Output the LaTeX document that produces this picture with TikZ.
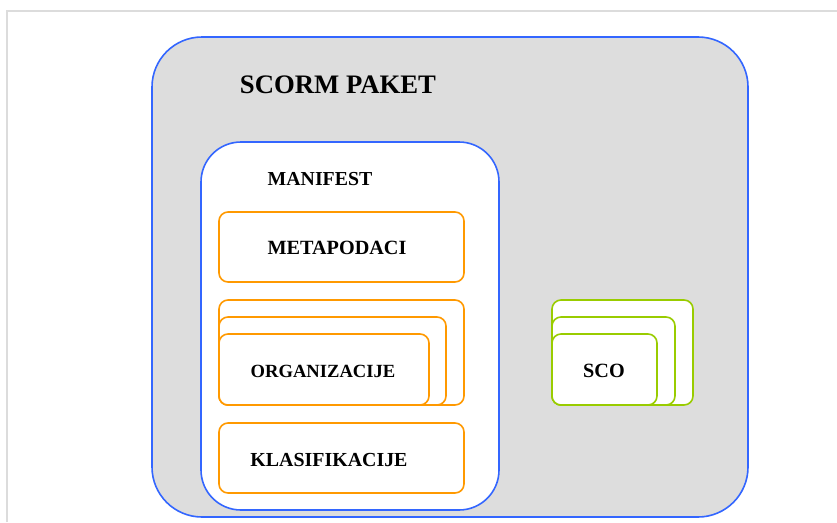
\documentclass[tikz,border=0pt]{standalone}
\usepackage{fontspec}
\setmainfont{Liberation Serif}
\definecolor{frame}{HTML}{DCDCDC}
\definecolor{pblue}{HTML}{3366FF}
\definecolor{porange}{HTML}{FF9900}
\definecolor{pgreen}{HTML}{99CC00}
\definecolor{pgray}{HTML}{DDDDDD}
\tikzset{
  outerbox/.style={draw=pblue, line width=1.6pt, fill=pgray, rounded corners=50pt},
  manbox/.style={draw=pblue, line width=1.6pt, fill=white, rounded corners=40pt},
  obox/.style={draw=porange, line width=1.6pt, fill=white, rounded corners=9pt},
  gbox/.style={draw=pgreen, line width=1.6pt, fill=white, rounded corners=9pt},
  lbl/.style={font=\bfseries, text=black, inner sep=0pt}
}
\begin{document}
\begin{tikzpicture}[x=1pt,y=-1pt]
\useasboundingbox (0,0) rectangle (837,522);
\draw[frame, line width=2pt] (7,522) coordinate (fl) -- (7,11) coordinate (ftl) -- (837,11) coordinate (ftr);
% outer package
\draw[outerbox] (152,37) rectangle (748,517);
\node[lbl, font=\bfseries\fontsize{26.7}{30}\selectfont] (title) at (338,85) {SCORM PAKET};
% manifest
\draw[manbox] (201,142) rectangle (499,510);
\node[lbl, font=\bfseries\fontsize{19.8}{23}\selectfont] (manifest) at (320,179) {MANIFEST};
% metapodaci
\draw[obox] (219,212) rectangle (464,282);
\node[lbl, font=\bfseries\fontsize{20.2}{23}\selectfont] (meta) at (337,248) {METAPODACI};
% organizacije stack
\draw[obox] (219,300) rectangle (464,405);
\draw[obox] (219,317) rectangle (446,405);
\draw[obox] (219,334) rectangle (429,405);
\node[lbl, font=\bfseries\fontsize{18.6}{22}\selectfont] (org) at (323,371) {ORGANIZACIJE};
% klasifikacije
\draw[obox] (219,423) rectangle (464,493);
\node[lbl, font=\bfseries\fontsize{19.9}{23}\selectfont] (klas) at (329,460) {KLASIFIKACIJE};
% SCO stack
\draw[gbox] (552,300) rectangle (693,405);
\draw[gbox] (552,317) rectangle (675,405);
\draw[gbox] (552,334) rectangle (657,405);
\node[lbl, font=\bfseries\fontsize{20.2}{23}\selectfont] (sco) at (604,371) {SCO};
\end{tikzpicture}
\end{document}
